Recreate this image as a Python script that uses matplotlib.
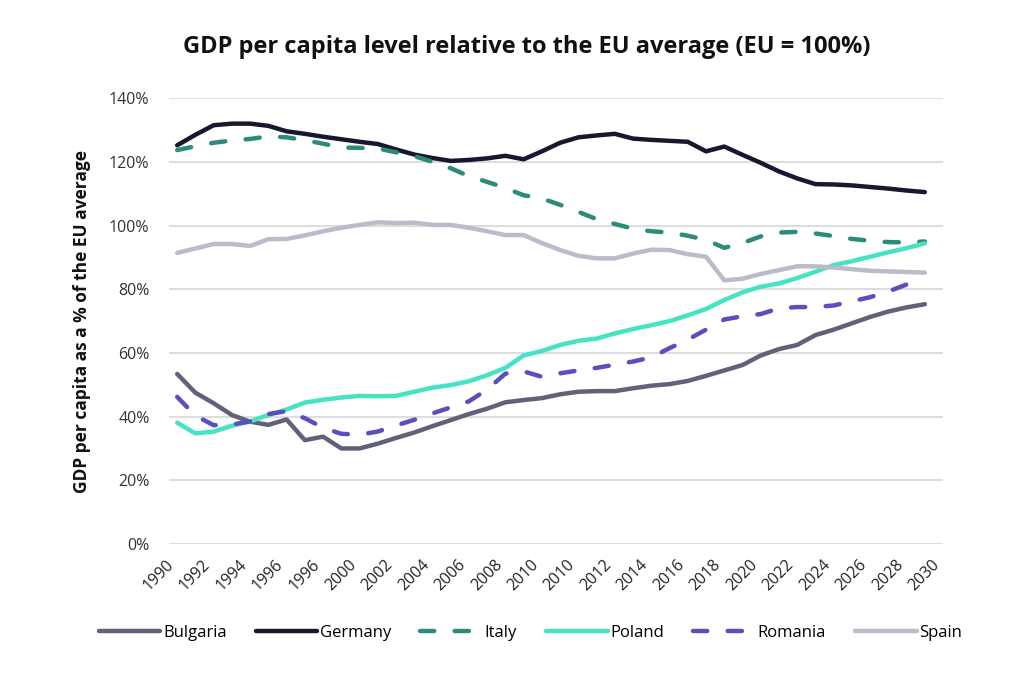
import matplotlib
matplotlib.use('Agg')
import matplotlib.pyplot as plt
import numpy as np

plt.rcParams['font.family'] = ['Open Sans', 'DejaVu Sans']

# Tick labels as printed on the original chart (one every second data point)
tick_labels = ['1990', '1992', '1994', '1996', '1996', '2000', '2002', '2004', '2006', '2008',
               '2010', '2010', '2012', '2014', '2016', '2018', '2020', '2022', '2024', '2026',
               '2028', '2030']

# GDP per capita, % of EU average (42 points each)
bulgaria = [53.4, 47.5, 44.2, 40.5, 38.4, 37.4, 39.1, 32.6, 33.7, 30.0, 30.0, 31.5, 33.3, 35.0,
            37.0, 38.9, 40.8, 42.5, 44.5, 45.2, 45.8, 47.0, 47.8, 48.0, 48.0, 48.9, 49.7, 50.2,
            51.2, 52.8, 54.5, 56.2, 59.2, 61.2, 62.5, 65.6, 67.3, 69.3, 71.3, 73.0, 74.3, 75.3]
germany = [125.2, 128.5, 131.5, 132.0, 132.0, 131.3, 129.6, 128.8, 127.9, 127.1, 126.3, 125.6,
           123.9, 122.3, 121.2, 120.3, 120.6, 121.1, 121.9, 120.8, 123.3, 126.0, 127.7, 128.3,
           128.8, 127.3, 126.9, 126.6, 126.3, 123.3, 124.8, 122.2, 119.7, 117.0, 114.8, 113.0,
           112.9, 112.6, 112.1, 111.6, 111.0, 110.5]
italy = [123.7, 124.9, 126.0, 126.7, 127.2, 128.0, 127.7, 126.8, 125.7, 124.5, 124.4, 124.2,
         123.0, 121.8, 120.0, 118.0, 115.5, 113.7, 111.8, 109.5, 108.5, 106.5, 104.3, 102.0,
         100.5, 99.0, 98.2, 97.8, 96.8, 95.5, 93.0, 94.5, 96.6, 97.8, 98.0, 97.5, 96.7, 95.8,
         95.2, 94.8, 94.7, 95.0]
poland = [38.1, 34.7, 35.3, 37.1, 38.5, 40.5, 42.2, 44.4, 45.3, 46.0, 46.5, 46.4, 46.5, 47.8,
          49.1, 49.9, 51.1, 53.0, 55.3, 59.2, 60.6, 62.5, 63.8, 64.5, 66.1, 67.5, 68.7, 70.0,
          71.8, 73.8, 76.6, 79.0, 80.8, 81.8, 83.5, 85.5, 87.6, 88.8, 90.2, 91.6, 92.9, 94.4]
romania = [46.2, 40.3, 37.3, 37.5, 38.5, 40.8, 41.7, 39.5, 36.5, 34.6, 34.3, 35.3, 37.2, 39.0,
           41.0, 42.9, 44.8, 48.5, 53.5, 54.2, 52.5, 53.6, 54.5, 55.3, 56.3, 57.3, 58.6, 61.5,
           64.2, 67.3, 70.5, 71.5, 72.2, 74.0, 74.4, 74.4, 74.9, 76.2, 77.5, 79.3, 81.5, 83.7]
spain = [91.4, 92.8, 94.2, 94.2, 93.6, 95.7, 95.8, 96.9, 98.2, 99.3, 100.2, 101.0, 100.8,
         100.9, 100.2, 100.2, 99.3, 98.2, 97.0, 97.0, 94.5, 92.3, 90.5, 89.7, 89.7, 91.2, 92.4,
         92.3, 91.0, 90.2, 82.8, 83.3, 84.8, 86.0, 87.2, 87.2, 86.8, 86.3, 85.8, 85.6, 85.4, 85.2]

series = [
    ('Bulgaria', bulgaria, '#5f6279', '-'),
    ('Germany', germany, '#17172f', '-'),
    ('Italy', italy, '#2d8b79', '--'),
    ('Poland', poland, '#45e3c4', '-'),
    ('Romania', romania, '#5a4fbd', '--'),
    ('Spain', spain, '#bbbbca', '-'),
]

fig = plt.figure(figsize=(10.24, 6.77), dpi=100)
ax = fig.add_axes([0.165, 0.1965, 0.756, 0.6585])

x = np.arange(len(germany))
for name, vals, color, ls in series:
    line, = ax.plot(x, vals, color=color, lw=3.2, ls=ls, label=name,
                    solid_capstyle='round', dash_capstyle='round', solid_joinstyle='round')
    if ls == '--':
        line.set_dashes((3.2, 4.6))

ax.set_ylim(0, 140)
ax.set_xlim(-0.45, 41.9)
ax.set_yticks(np.arange(0, 141, 20))
ax.set_yticklabels([f'{v}%' for v in range(0, 141, 20)], fontsize=11.5, color='#333333')
ax.set_xticks(np.arange(0, 43, 2))
ax.set_xticklabels(tick_labels, rotation=45, ha='right', rotation_mode='default',
                   fontsize=11.5, color='#222222')
ax.tick_params(axis='y', length=0, pad=14)
ax.tick_params(axis='x', length=0, pad=9)
ax.grid(axis='y', color='#dddddd', lw=1.5)
ax.set_axisbelow(True)
for s in ax.spines.values():
    s.set_visible(False)

ax.set_ylabel('GDP per capita as a % of the EU average', fontsize=12.5, fontweight='bold',
              color='#111111', labelpad=13)
fig.suptitle('GDP per capita level relative to the EU average (EU = 100%)', fontsize=17,
             fontweight='bold', color='#111111', x=0.514, y=0.948)

fig.legend(loc='center', bbox_to_anchor=(0.518, 0.065), ncol=6, frameon=False, fontsize=12,
           handlelength=3.7, handletextpad=0.15, columnspacing=1.75)

fig.savefig('out.png', dpi=100, facecolor='white')
